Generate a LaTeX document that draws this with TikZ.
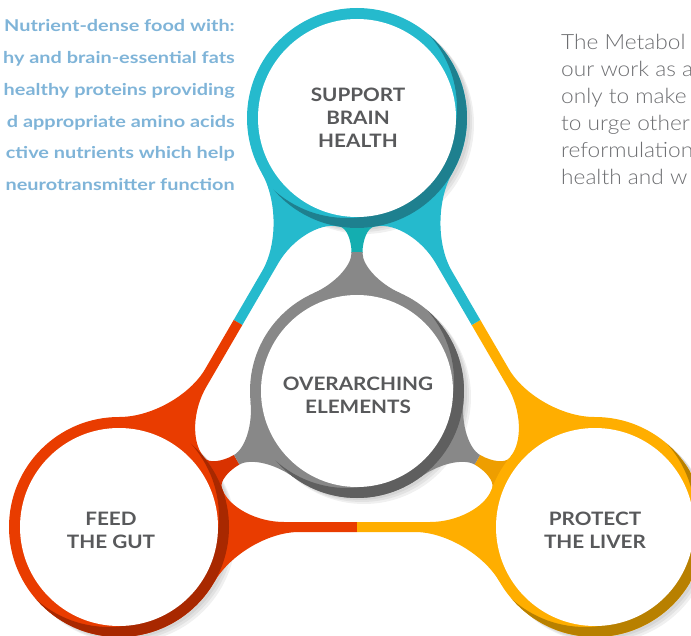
\documentclass[tikz,border=0pt]{standalone}
\usepackage{fontspec}
\setmainfont{Lato}
\newfontfamily\lightfont{Lato Light}[FakeStretch=1.08]
\newfontfamily\notefont{Lato}[FakeStretch=1.22]
\newfontfamily\labelfont{Lato}[FakeStretch=1.12]
\usetikzlibrary{calc,backgrounds}

\definecolor{brainteal}{HTML}{25BACD}
\definecolor{braindark}{HTML}{1E808F}
\definecolor{brainstem}{HTML}{14AEB0}
\definecolor{gutred}{HTML}{E93C00}
\definecolor{gutdark}{HTML}{A82800}
\definecolor{gutstem}{HTML}{D93200}
\definecolor{liveryellow}{HTML}{FFAE00}
\definecolor{liverdark}{HTML}{B88000}
\definecolor{liverstem}{HTML}{EE9E00}
\definecolor{coregray}{HTML}{888888}
\definecolor{coredark}{HTML}{5F5F5F}
\definecolor{labelgray}{HTML}{58595B}
\definecolor{noteblue}{HTML}{7FB4D8}
\definecolor{bodygray}{HTML}{6D6E71}

% soft shadow to the lower right of a circle
\newcommand{\ringshadow}[2]{
    \foreach \s in {2,4,6}
        \fill[black, opacity=0.06] ($(#1)+(\s+1,-\s)$) circle (#2);
}

% coloured ring, dark crescent on the lower right
\newcommand{\colring}[4]{
    \fill[#2] (#1) circle (#4);
    \begin{scope}
        \clip (#1) circle (#4);
        \fill[#3, even odd rule] (#1) circle ({#4+5}) ($(#1)+(-10,10)$) circle (#4);
    \end{scope}
}

% neck between two circles, local frame: first centre at origin, second at (\nkd,0)
\newcommand{\neckpath}{
    (\nkaAu:\nkRA)
        .. controls +({\nkaAu-90}:{tang(\nkRA,\nkaAu,\nkh)}) and +(180:{flat(\nkRA,\nkaAu,\nkh,\nkuAu)}) .. (\nkuAu,\nkh)
        -- ({\nkd-\nkuBu},\nkh)
        .. controls +(0:{flat(\nkRB,\nkaBu,\nkh,\nkuBu)}) and +({270-\nkaBu}:{tang(\nkRB,\nkaBu,\nkh)}) .. ({\nkd-\nkRB*cos(\nkaBu)},{\nkRB*sin(\nkaBu)})
        -- ({\nkd-\nkRB*cos(\nkaBl)},{-\nkRB*sin(\nkaBl)})
        .. controls +({90+\nkaBl}:{tang(\nkRB,\nkaBl,\nkh)}) and +(0:{flat(\nkRB,\nkaBl,\nkh,\nkuBl)}) .. ({\nkd-\nkuBl},-\nkh)
        -- (\nkuAl,-\nkh)
        .. controls +(180:{flat(\nkRA,\nkaAl,\nkh,\nkuAl)}) and +({90-\nkaAl}:{tang(\nkRA,\nkaAl,\nkh)}) .. ({-\nkaAl}:\nkRA)
        -- cycle
}

% distance and direction from #1 to #2
\newcommand{\neckframe}[2]{
    \path let \p1=($(#2)-(#1)$) in
        \pgfextra{\pgfmathsetmacro\nktmp{veclen(\x1,\y1)}\xdef\nkd{\nktmp}%
                  \pgfmathsetmacro\nktmp{atan2(\y1,\x1)}\xdef\nkang{\nktmp}};
}

% two-coloured neck, split at #2 along the axis
\newcommand{\neckfill}[4]{
    \begin{scope}[shift={(#1)}, rotate=\nkang]
        \begin{scope}
            \clip (-160,-160) rectangle (#2,160);
            \fill[#3] \neckpath;
        \end{scope}
        \begin{scope}
            \clip (#2,-160) rectangle ({\nkd+160},160);
            \fill[#4] \neckpath;
        \end{scope}
    \end{scope}
}

% outer band between two of the big circles
\newcommand{\sideband}[4]{
    \neckframe{#1}{#2}
    \def\nkh{5}\def\nkRA{110}\def\nkRB{110}
    \def\nkaAu{20}\def\nkuAu{165}\def\nkaAl{30}\def\nkuAl{180}
    \def\nkaBu{20}\def\nkuBu{165}\def\nkaBl{30}\def\nkuBl{180}
    \neckfill{#1}{{\nkd/2}}{#3}{#4}
}

% short stem from a big circle to the core circle
\newcommand{\corestem}[3]{
    \neckframe{#1}{#2}
    \def\nkh{5.5}\def\nkRA{110}\def\nkRB{107}
    \pgfmathsetmacro\nks{(\nkRA+\nkd-\nkRB)/2-3}
    \pgfmathsetmacro\nkr{\nkd-\nks}
    \def\nkaAu{9}\let\nkuAu\nks\def\nkaAl{9}\let\nkuAl\nks
    \def\nkaBu{24}\let\nkuBu\nkr\def\nkaBl{24}\let\nkuBl\nkr
    \neckfill{#1}{\nks}{#3}{coregray}
}

\tikzset{
    disc/.style={circle, fill=white, inner sep=0pt, minimum size=198pt},
    disclabel/.style={align=center, inner sep=0pt, text=labelgray,
        font=\labelfont\fontsize{18.5}{23}\selectfont\bfseries},
    note/.style={anchor=base east, inner sep=0pt, text=noteblue,
        font=\notefont\fontsize{16.3}{20}\selectfont\bfseries},
    body/.style={anchor=base west, inner sep=0pt, text=bodygray,
        font=\lightfont\fontsize{21}{26}\selectfont}
}

\begin{document}
\begin{tikzpicture}[x=1pt, y=1pt,
    declare function={
        tang(\R,\a,\h)=0.55*(\R*sin(\a)-\h)/cos(\a);
        flat(\R,\a,\h,\u)=0.55*(\u-\R*cos(\a)-(\R*sin(\a)-\h)*tan(\a));
    }]
    \useasboundingbox (0,0) rectangle (691,-636);

    % the four circles
    \node[disc] (brain) at (357,-118) {};
    \node[disc] (gut) at (119,-527) {};
    \node[disc] (liver) at (595,-527) {};
    \node[disc, minimum size=192pt] (core) at (357,-391) {};

    \node[disclabel] (brain label) at ($(brain)+(1,0)$) {SUPPORT\\BRAIN\\HEALTH};
    \node[disclabel] (gut label) at ($(gut)+(-8,-3)$) {FEED\\THE GUT};
    \node[disclabel] (liver label) at ($(liver)+(0,-3)$) {PROTECT\\THE LIVER};
    \node[disclabel] (core label) at ($(core)+(1,-4)$) {OVERARCHING\\ELEMENTS};

    \begin{scope}[on background layer]
        \ringshadow{brain}{110}
        \ringshadow{gut}{110}
        \ringshadow{liver}{110}
        \ringshadow{core}{107}

        \sideband{gut}{liver}{gutred}{liveryellow}
        \sideband{liver}{brain}{liveryellow}{brainteal}
        \sideband{brain}{gut}{brainteal}{gutred}

        \corestem{brain}{core}{brainstem}
        \corestem{gut}{core}{gutstem}
        \corestem{liver}{core}{liverstem}

        \colring{brain}{brainteal}{braindark}{110}
        \colring{gut}{gutred}{gutdark}{110}
        \colring{liver}{liveryellow}{liverdark}{110}
        \colring{core}{coregray}{coredark}{107}
    \end{scope}

    % text beside the diagram
    \foreach \txt [count=\i] in {Nutrient-dense food with:, hy and brain-essential fats,
        healthy proteins providing, d appropriate amino acids,
        ctive nutrients which help, neurotransmitter function}
        \node[note] (note\i) at (235,{-32-31.7*(\i-1)}) {\txt};

    \foreach \txt [count=\i] in {The Metabol, our work as a, only to make,
        to urge other, reformulation, health and w}
        \node[body] (body\i) at (561,{-49.5-27*(\i-1)}) {\txt};
\end{tikzpicture}
\end{document}
